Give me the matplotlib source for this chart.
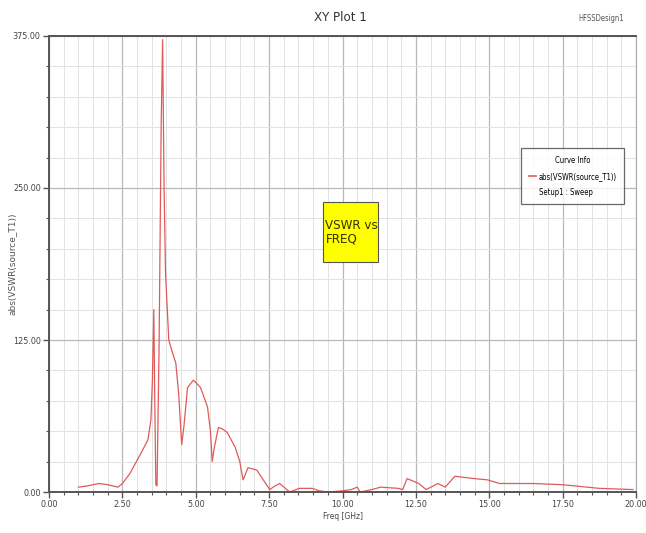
import matplotlib
matplotlib.use("Agg")
import matplotlib.pyplot as plt
from matplotlib.ticker import MultipleLocator
from matplotlib.lines import Line2D
from matplotlib.patches import Rectangle

plt.rcParams['font.family'] = ['Liberation Sans Narrow', 'DejaVu Sans']
plt.rcParams['font.stretch'] = 'condensed'

# values
freq_ghz = [1.0, 1.3, 1.7, 2.0, 2.35, 2.5, 2.75, 3.0, 3.2, 3.37, 3.47, 3.52, 3.57,
            3.6, 3.64, 3.68, 3.75, 3.82, 3.87, 3.92, 3.97, 4.08, 4.2, 4.32, 4.42,
            4.52, 4.6, 4.72, 4.92, 5.16, 5.4, 5.5, 5.56, 5.62, 5.77, 5.9, 6.07,
            6.34, 6.5, 6.61, 6.78, 7.08, 7.3, 7.52, 7.7, 7.86, 8.2, 8.53, 8.97,
            9.2, 9.5, 10.0, 10.3, 10.5, 10.6, 11.0, 11.3, 11.9, 12.05, 12.2, 12.6,
            12.85, 13.25, 13.5, 13.83, 14.16, 14.5, 14.94, 15.35, 16.5, 17.5,
            18.75, 19.9]
vswr = [4, 5, 7, 6, 4, 7, 15, 26, 35, 43, 59, 90, 150,
        80, 6, 5, 120, 300, 372, 250, 180, 125, 115, 106, 80,
        39, 55, 86, 92, 86, 70, 50, 25, 35, 53, 52, 49,
        37, 25, 10, 20, 18, 10, 2, 5, 7, 0, 3, 3,
        1, 0, 1, 2, 4, 0, 2, 4, 3, 2, 11, 7,
        2, 7, 4, 13, 12, 11, 10, 7, 7, 6,
        3, 2]

x_ticks = [0, 2.5, 5, 7.5, 10, 12.5, 15, 17.5, 20]
y_ticks = [0, 125, 250, 375]

fig = plt.figure(figsize=(6.46, 5.33), dpi=100)
ax = fig.add_axes([0.0759, 0.0769, 0.9086, 0.8556])

ax.plot(freq_ghz, vswr, color='#e05a5a', linewidth=0.9)

ax.set_xlim(0, 20)
ax.set_ylim(0, 375)
ax.set_xticks(x_ticks)
ax.set_xticklabels([f'{v:.2f}' for v in x_ticks])
ax.set_yticks(y_ticks)
ax.set_yticklabels([f'{v:.2f}' for v in y_ticks])
ax.xaxis.set_minor_locator(MultipleLocator(0.5))
ax.yaxis.set_minor_locator(MultipleLocator(25))

# grid like the HFSS plot
ax.grid(which='major', color='#b8b8b8', linewidth=0.9)
ax.grid(which='minor', color='#e2e2e2', linewidth=0.7)
ax.set_axisbelow(True)

ax.tick_params(which='major', length=4, width=1, color='#555555', labelsize=6.5,
               labelcolor='#444444', pad=2)
ax.tick_params(which='minor', length=2, width=0.8, color='#555555')
for s in ['left', 'bottom', 'top']:
    ax.spines[s].set_color('#555555')
    ax.spines[s].set_linewidth(1.4)
ax.spines['right'].set_color('#aaaaaa')
ax.spines['right'].set_linewidth(0.8)

ax.set_xlabel('Freq [GHz]', fontsize=6, color='#444444', labelpad=2)
ax.set_ylabel('abs(VSWR(source_T1))', fontsize=6.5, fontstretch='normal', color='#555555')
ax.yaxis.set_label_coords(-0.056, 0.5)

fig.text(0.527, 0.968, 'XY Plot 1', ha='center', va='center', fontsize=9.5, color='#333333')
fig.text(0.93, 0.965, 'HFSSDesign1', ha='center', va='center', fontsize=5.5, color='#555555')

# yellow note box
ax.add_patch(Rectangle((0.467, 0.504), 0.094, 0.132, transform=ax.transAxes,
                       facecolor='#ffff00', edgecolor='#555555', linewidth=0.8, zorder=4))
ax.text(0.471, 0.570, 'VSWR vs\nFREQ', transform=ax.transAxes, fontsize=9.5,
        color='#333300', ha='left', va='center', linespacing=1.1, zorder=5)

# curve info legend
handles = [Line2D([], [], color='#e05a5a', linewidth=1.2),
           Line2D([], [], color='none')]
leg = ax.legend(handles, ['abs(VSWR(source_T1))', 'Setup1 : Sweep'], title='Curve Info',
                loc='upper left', bbox_to_anchor=(0.804, 0.754), fontsize=5.5, title_fontsize=5.5,
                frameon=True, fancybox=False, edgecolor='#444444', handlelength=1.0,
                handletextpad=0.3, borderpad=1.0, labelspacing=0.9, borderaxespad=0)
leg.get_frame().set_linewidth(0.9)

fig.savefig('out.png', dpi=100)
